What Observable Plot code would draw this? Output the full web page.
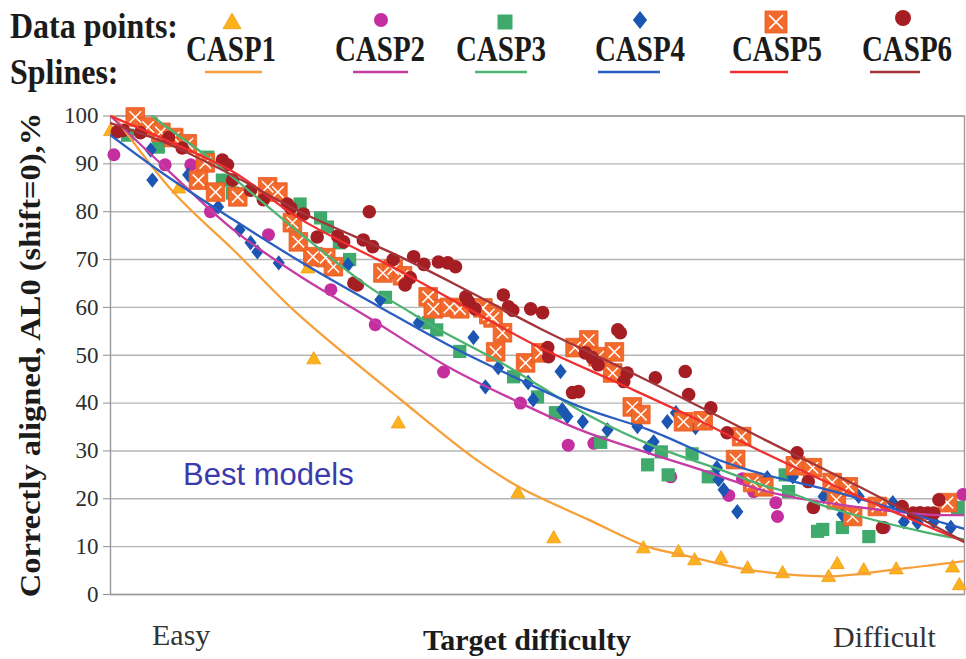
<!DOCTYPE html>
<html>
<head>
<meta charset="utf-8">
<script src="https://cdn.jsdelivr.net/npm/d3@7"></script>
<script src="https://cdn.jsdelivr.net/npm/@observablehq/plot@0.6"></script>
<style>
html,body{margin:0;padding:0;background:#fff;}
#wrap{position:relative;width:966px;height:659px;overflow:hidden;font-family:"Liberation Serif","Times New Roman",serif;color:#1b1b1b;}
.t{position:absolute;white-space:nowrap;line-height:1;}
.b{font-weight:bold;}
#plot{position:absolute;left:0;top:100px;}
#plot [aria-label="y-axis tick"]{stroke:#8f8f8f;}
#plot [aria-label="y-axis tick label"]{fill:#2e2e2e;}
</style>
</head>
<body>
<div id="wrap"><div id="plot"></div></div>
<script>
// ---------- data ----------
const seriesNames = ["CASP1", "CASP2", "CASP3", "CASP4", "CASP5", "CASP6"];
const yTicks = [0, 10, 20, 30, 40, 50, 60, 70, 80, 90, 100];

// data points (x: target difficulty rank 0-100, y: % correctly aligned)
const casp1X = [0, 8.0, 23.1, 23.8, 33.7, 47.7, 51.9, 62.4, 66.5, 68.4, 71.5, 74.6, 78.7, 84.1, 85.1, 88.2, 92.0, 98.6, 99.4];
const casp1Y = [97, 85, 68.3, 49.3, 35.9, 21.3, 11.9, 9.8, 9.0, 7.3, 7.7, 5.6, 4.6, 3.8, 6.5, 5.2, 5.4, 5.8, 2.1];

const casp2X = [0.4, 6.4, 9.4, 11.7, 18.5, 25.8, 31.0, 39.0, 48.0, 53.6, 56.6, 65.6, 72.4, 74.0, 75.3, 77.9, 78.1, 90.6, 99.8];
const casp2Y = [91.9, 89.8, 89.8, 80, 75.2, 63.7, 56.4, 46.5, 40, 31.2, 31.6, 24.6, 20.7, 24.2, 21.5, 19.2, 16.3, 14, 20.9];

const casp3X = [2.0, 5.6, 11.4, 13.1, 14.3, 22.2, 24.6, 25.4, 26.8, 28.0, 32.2, 37.2, 38.2, 40.9, 47.2, 50.0, 52.1, 57.4, 62.9, 64.5, 65.3, 68.1, 70.0, 79.0, 79.4, 82.8, 83.4, 85.7, 88.8, 99.2];
const casp3Y = [96, 93.5, 91.4, 86.6, 83.9, 81.6, 78.7, 76.8, 73.5, 70, 62.1, 56.8, 55.3, 50.8, 45.5, 41.3, 38, 31.8, 27.1, 29.8, 25, 29.4, 24.6, 25, 21.5, 13.2, 13.6, 14, 12.1, 18.2];

const casp4X = [4.7, 4.9, 9.1, 12.6, 15.1, 16.4, 17.2, 19.7, 27.8, 31.6, 36.1, 42.5, 43.9, 45.4, 48.9, 49.5, 52.7, 52.9, 53.5, 55.3, 58.2, 61.7, 63.0, 63.6, 65.2, 66.2, 68.5, 71.0, 71.2, 71.8, 73.4, 76.9, 79.9, 83.5, 85.7, 87.6, 91.6, 92.9, 94.5, 96.4, 98.4];
const casp4Y = [92.9, 86.6, 87.7, 81, 76.2, 73.5, 71.6, 69.3, 68.9, 61.6, 56.8, 53.7, 43.4, 47.4, 44.3, 40.7, 46.6, 38.6, 37.2, 36.1, 34.4, 35.1, 30.7, 31.9, 36.1, 38, 34.9, 26.5, 24, 21.9, 17.3, 24.4, 24.6, 20.5, 16.7, 20.5, 19.2, 15.2, 15, 15.2, 14];

const casp5X = [2.9, 4.4, 5.9, 7.4, 9.0, 11.1, 10.3, 12.3, 14.9, 18.4, 19.6, 21.3, 22.0, 23.7, 25.2, 26.1, 31.9, 33.1, 34.2, 37.2, 37.8, 39.7, 40.9, 43.6, 44.3, 44.8, 45.9, 45.1, 48.6, 50.4, 54.4, 56.0, 57.1, 59.0, 58.8, 61.1, 62.1, 67.1, 69.4, 73.2, 73.9, 75.2, 76.5, 80.2, 82.2, 84.5, 85.0, 86.4, 86.9, 89.8, 98.0];
const casp5Y = [99.8, 97.7, 96.6, 95.5, 94.2, 90.2, 86.6, 84.1, 83.1, 85.2, 84.1, 77.7, 73.7, 70.6, 70.4, 68.5, 67.2, 68, 66.6, 62.2, 59.7, 60, 59.7, 59.9, 58.5, 57.8, 54.7, 50.7, 48.4, 50.5, 51.6, 53.2, 49.7, 50.7, 46.3, 39.2, 37.6, 36.1, 36.3, 28.2, 33, 23.4, 22.5, 26.9, 26.5, 23.4, 19.8, 22.5, 16.3, 18.4, 19.2];

const casp6X = [0.8, 1.5, 3.5, 6.8, 8.4, 13.1, 13.7, 14.3, 16.4, 17.9, 20.7, 21.1, 22.6, 24.2, 26.6, 27.3, 29.6, 30.3, 30.7, 28.5, 28.9, 33.1, 34.5, 35.1, 35.5, 36.7, 38.4, 39.5, 40.4, 41.6, 41.9, 42.7, 46.0, 46.6, 47.1, 49.2, 50.6, 51.2, 51.3, 54.1, 54.8, 55.6, 56.4, 57.1, 59.4, 59.7, 60.1, 60.5, 63.8, 67.3, 67.7, 70.3, 72.2, 80.4, 81.7, 82.3, 90.4, 92.7, 94.0, 94.8, 95.7, 96.4, 97.0];
const casp6Y = [96.7, 97, 96.5, 95.5, 93.3, 90.8, 89.8, 86.6, 84.5, 82.5, 81.6, 80.8, 79.5, 74.7, 74.9, 73.7, 74.1, 80, 72.7, 65.1, 64.7, 70, 64.7, 66.2, 70.6, 69, 69.5, 69.3, 68.5, 62.2, 61.2, 59.7, 62.6, 60.1, 59.4, 59.7, 58.9, 51.6, 49.7, 42.2, 42.4, 50.5, 49.5, 48, 55.3, 54.7, 44.5, 46.3, 45.3, 46.6, 41.8, 39, 33.8, 29.6, 23.6, 18.2, 14, 18.4, 17, 17.1, 17, 17, 19.8];

// spline curves, values
const spline1X = [0, 7.4, 14.4, 21.7, 34.0, 42.5, 48.0, 55.9, 62.9, 67.6, 74.6, 84.0, 91.7, 100];
const spline1Y = [101, 84, 72, 59, 40.7, 28.6, 22.3, 15.7, 10, 8, 5.2, 3.8, 5.2, 7];
const spline2X = [0, 6.7, 14.4, 22.2, 30.1, 39.5, 47.2, 55.0, 62.9, 69.1, 76.1, 80.0, 87.8, 95.7, 100];
const spline2Y = [100, 88.7, 76.2, 66.5, 58, 47.6, 40.7, 34.4, 29.6, 26.1, 21.9, 20.3, 18.2, 16.7, 16.6];
const spline3X = [0, 4.9, 11.7, 22.2, 30.1, 35.1, 37.8, 45.7, 50.4, 55.9, 63.6, 71.4, 76.1, 80.0, 83.1, 87.8, 95.7, 100];
const spline3Y = [108, 100, 91, 75.5, 64.5, 59, 56, 48.5, 43.4, 37.5, 31, 26.1, 23, 21, 18.8, 16.3, 12.9, 11.5];
const spline4X = [0, 6.7, 14.4, 22.2, 31.6, 39.5, 47.2, 55.0, 63.2, 71.4, 76.1, 83.1, 87.8, 92.5, 100];
const spline4Y = [96, 87.3, 78.3, 69.6, 60, 52.2, 45.5, 39.2, 34.3, 28, 25.3, 22.3, 20, 17.5, 13.7];
const spline5X = [0, 6.7, 14.4, 22.2, 34.0, 41.8, 50.4, 59.7, 67.6, 76.1, 87.8, 100];
const spline5Y = [100, 94.8, 88.3, 78.5, 67.5, 59.8, 51.5, 44, 37.5, 30, 20.3, 11];
const spline6X = [0, 6.7, 14.4, 22.2, 34.0, 41.8, 50.4, 59.7, 67.6, 76.1, 87.8, 100];
const spline6Y = [98.5, 94.2, 87.5, 80, 70.5, 63.5, 55.5, 47.5, 40.5, 32.8, 22.4, 11];

const annotations = [{x: 8.5, y: 24.9, text: "Best models"}];

// ---------- assemble tables ----------
const pointsX = [casp1X, casp2X, casp3X, casp4X, casp5X, casp6X];
const pointsY = [casp1Y, casp2Y, casp3Y, casp4Y, casp5Y, casp6Y];
const splinesX = [spline1X, spline2X, spline3X, spline4X, spline5X, spline6X];
const splinesY = [spline1Y, spline2Y, spline3Y, spline4Y, spline5Y, spline6Y];

const points = seriesNames.map((s, i) => pointsX[i].map((x, j) => ({series: s, x, y: pointsY[i][j]})));
const splines = seriesNames.map((s, i) => splinesX[i].map((x, j) => ({series: s, x, y: splinesY[i][j]})));

// ---------- styles ----------
const markFill = ["#FBB21C", "#C42E9F", "#3FAA6B", "#1B56B2", "#F26A2C", "#A51E24"];
const markStroke = ["#F29A12", "none", "none", "none", "#E9581F", "none"];
const lineStroke = ["#F7A03A", "#C53CA4", "#4DB370", "#2A5EC0", "#EF2F2F", "#A4353A"];

const rOf = p => Math.sqrt(p / Math.PI);
const symTriangle = {draw(c, s) { const r = rOf(s); c.moveTo(0, -r); c.lineTo(r, 0.75 * r); c.lineTo(-r, 0.75 * r); c.closePath(); }};
const symSquare = {draw(c, s) { const r = rOf(s); c.moveTo(-r, -r); c.lineTo(r, -r); c.lineTo(r, r); c.lineTo(-r, r); c.closePath(); }};
const symDiamond = {draw(c, s) { const r = rOf(s); c.moveTo(0, -1.2 * r); c.lineTo(0.95 * r, 0); c.lineTo(0, 1.2 * r); c.lineTo(-0.95 * r, 0); c.closePath(); }};
const symCircle = {draw(c, s) { const r = rOf(s); c.moveTo(r, 0); c.arc(0, 0, r, 0, 2 * Math.PI); c.closePath(); }};
const symX = {draw(c, s) { const r = rOf(s) * 0.62; c.moveTo(-r, -r); c.lineTo(r, r); c.moveTo(r, -r); c.lineTo(-r, r); }};
const symbols = [symTriangle, "circle", symSquare, symDiamond, symSquare, "circle"];
const legendSymbols = [symTriangle, symCircle, symSquare, symDiamond, symSquare, symCircle];
const dotR = [7, 6.5, 6.6, 6.4, 9.3, 6.8];

// ---------- chart ----------
const marks = [
  Plot.gridY(yTicks, {stroke: "#b5b5b5", strokeOpacity: 1, strokeWidth: 1.4}),
  Plot.frame({stroke: "#999999", strokeWidth: 1.4}),
  Plot.axisY(yTicks, {tickSize: 7, tickPadding: 5, fontSize: 23, fontFamily: "Liberation Serif", label: null})
];
seriesNames.forEach((s, i) => {
  marks.push(Plot.dot(points[i], {x: "x", y: "y", symbol: symbols[i], r: dotR[i], fill: markFill[i], stroke: markStroke[i], strokeWidth: 0.8}));
  if (s === "CASP5") {
    marks.push(Plot.dot(points[i], {x: "x", y: "y", symbol: symX, r: dotR[i], stroke: "white", strokeWidth: 1.5, fill: "none"}));
  }
});
seriesNames.forEach((s, i) => {
  marks.push(Plot.line(splines[i], {x: "x", y: "y", stroke: lineStroke[i], strokeWidth: 2.3, curve: "catmull-rom", clip: true}));
});
marks.push(Plot.text(annotations, {x: "x", y: "y", text: "text", textAnchor: "start", fontSize: 31, fontFamily: "Liberation Sans, Arial, sans-serif", fill: "#3B3BAD"}));

const chart = Plot.plot({
  width: 966,
  height: 559,
  marginTop: 15.5,
  marginBottom: 65,
  marginLeft: 110,
  marginRight: 2,
  x: {domain: [0, 100], axis: null},
  y: {domain: [0, 100], axis: null},
  style: {background: "transparent", overflow: "visible"},
  marks
});
document.getElementById("plot").appendChild(chart);

// ---------- legend & titles ----------
const wrap = d3.select("#wrap");
function addText(txt, cls, css) {
  const d = wrap.append("div").attr("class", "t " + cls).text(txt);
  Object.entries(css).forEach(([k, v]) => d.style(k, v));
  return d;
}
addText("Data points:", "b", {left: "10px", top: "9px", "font-size": "32px", transform: "scaleY(1.15)", "transform-origin": "0 50%"});
addText("Splines:", "b", {left: "10px", top: "55px", "font-size": "32px", transform: "scaleY(1.15)", "transform-origin": "0 50%"});

const legendLabelX = [231, 380, 501, 640, 777, 907];
const legendSymX = [232, 381, 505, 640, 776, 903];
const legendSymY = [22, 20, 22, 20, 22, 18];
const legendSymR = [9, 7, 7.5, 7.5, 11, 8];
const legendLine = [[205, 262], [353, 408], [475, 527], [598, 660], [730, 788], [870, 920]];

seriesNames.forEach((s, i) => {
  addText(s, "b", {left: legendLabelX[i] + "px", top: "35px", "font-size": "29px", transform: "translateX(-50%) scaleY(1.2)"});
});
const lsvg = wrap.append("svg").attr("width", 966).attr("height", 100)
  .style("position", "absolute").style("left", "0").style("top", "0");
seriesNames.forEach((s, i) => {
  const p = d3.path();
  legendSymbols[i].draw(p, legendSymR[i] * legendSymR[i] * Math.PI);
  lsvg.append("path").attr("d", p.toString())
    .attr("transform", `translate(${legendSymX[i]},${legendSymY[i]})`)
    .attr("fill", markFill[i]).attr("stroke", markStroke[i]).attr("stroke-width", 0.8);
  if (s === "CASP5") {
    const q = d3.path();
    symX.draw(q, legendSymR[i] * legendSymR[i] * Math.PI);
    lsvg.append("path").attr("d", q.toString())
      .attr("transform", `translate(${legendSymX[i]},${legendSymY[i]})`)
      .attr("fill", "none").attr("stroke", "white").attr("stroke-width", 1.6);
  }
  lsvg.append("line").attr("x1", legendLine[i][0]).attr("x2", legendLine[i][1])
    .attr("y1", 72).attr("y2", 72).attr("stroke", lineStroke[i]).attr("stroke-width", 2.6);
});

addText("Correctly aligned, AL0 (shift=0),%", "b", {left: "30px", top: "355px", "font-size": "29px", transform: "translate(-50%,-50%) rotate(-90deg) scaleX(1.12)"});
addText("Easy", "", {left: "152px", top: "620px", "font-size": "30px", color: "#333"});
addText("Difficult", "", {left: "833px", top: "622px", "font-size": "30px", color: "#333"});
addText("Target difficulty", "b", {left: "527px", top: "625px", "font-size": "30px", transform: "translateX(-50%)"});
</script>
</body>
</html>
